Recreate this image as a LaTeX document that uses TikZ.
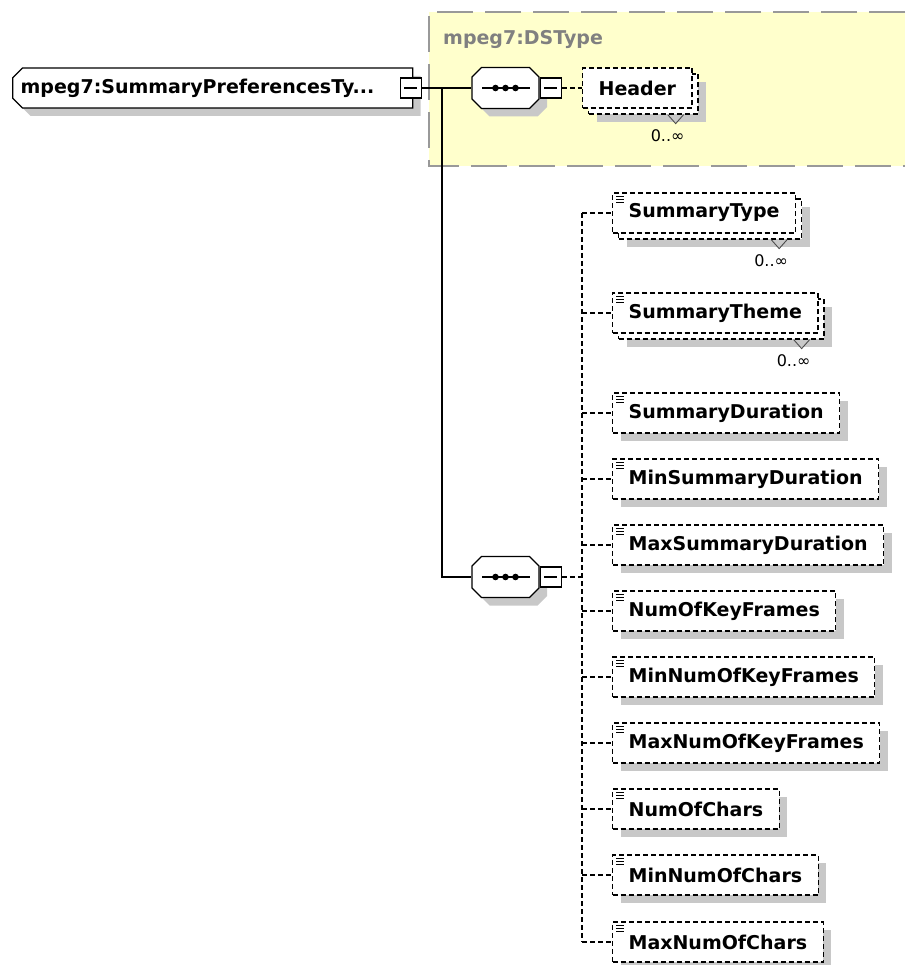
\documentclass[tikz,border=0pt]{standalone}
\usepackage{fontspec}
\usepackage{tikz}
\usetikzlibrary{shapes.misc,shadows,calc}
\newfontfamily\dvfont{DejaVu Sans}
\definecolor{dsyellow}{RGB}{255,255,204}
\definecolor{dsborder}{RGB}{153,153,153}
\definecolor{dstext}{RGB}{128,128,128}
\definecolor{shadegray}{RGB}{200,200,200}

\tikzset{
  lbl/.style={font=\dvfont\bfseries\fontsize{19}{22}\selectfont},
  plainshadow/.style={drop shadow={shadow xshift=#1,shadow yshift=-#1,fill=shadegray,opacity=1}},
  rootbox/.style={lbl,chamfered rectangle,chamfered rectangle corners={north west,south west},
    chamfered rectangle xsep=7pt,draw,line width=1.3pt,fill=white,
    minimum width=400pt,minimum height=40pt,inner xsep=0pt,plainshadow=8pt},
  seqbox/.style={chamfered rectangle,chamfered rectangle xsep=11pt,draw,line width=1.3pt,fill=white,
    minimum width=67pt,minimum height=41pt,inner sep=0pt,plainshadow=8pt,
    path picture={
      \draw[black,line width=1.4pt] ([xshift=10pt]path picture bounding box.west) -- ([xshift=-9pt]path picture bounding box.east);
      \foreach \d in {-10,0,10}
        \fill[black] ([xshift=\d pt]path picture bounding box.center) circle (3.3pt);
    }},
  minbox/.style={draw,line width=1.1pt,fill=white,minimum width=21pt,minimum height=20pt,inner sep=0pt,
    path picture={\draw[black,line width=1.1pt] ([xshift=4pt]path picture bounding box.west) -- ([xshift=-4pt]path picture bounding box.east);}},
  elembox/.style={lbl,draw,dash pattern=on 5pt off 3pt,line width=1.2pt,fill=white,
    minimum height=40pt,inner xsep=16pt,anchor=west},
  elem/.style={elembox,plainshadow=8pt},
  multi/.style={elembox,plainshadow=14pt,
    general shadow={shadow xshift=6pt,shadow yshift=-6pt,draw=black,fill=white,
      dash pattern=on 5pt off 3pt,line width=1.2pt}},
  occ/.style={font=\dvfont\fontsize{16}{18}\selectfont,inner sep=0pt,anchor=north east},
  conn/.style={line width=1.5pt},
  link/.style={line width=1.1pt,dash pattern=on 5pt off 3pt}
}

% chevron and 0..oo under a repeated element
\newcommand\occurs[1]{%
  \draw[black!70,line width=0.9pt] ($(#1.south east)+(-25,6)$) -- ++(8,9) -- ++(8,-9);
  \node[occ] (#1-occ) at ($(#1.south east)+(-8,21)$) {0..∞};
}

\begin{document}
\begin{tikzpicture}[x=1pt,y=-1pt]
  \useasboundingbox (0,0) rectangle (905,965);

  % DSType group
  \fill[dsyellow] (429,12) rectangle (905,166);
  \draw[dsborder,line width=2pt,dash pattern=on 36pt off 12pt] (905,12) -- (429,12) -- (429,166) -- (905,166);
  \node[lbl,text=dstext,anchor=west,inner sep=0pt] (dslabel) at (443,40) {mpeg7:DSType};

  % root type and compositors
  \node[rootbox,anchor=west] (root) at (12,88) {\makebox[384pt][l]{mpeg7:SummaryPreferencesTy...}};
  \node[minbox] (rootm) at ([xshift=-2.5pt]root.east) {};

  \node[seqbox] (seqA) at (505.5,88) {\rule{0pt}{19pt}};
  \node[minbox,anchor=west] (seqAm) at (seqA.east) {};
  \node[seqbox] (seqB) at (505.5,577) {\rule{0pt}{19pt}};
  \node[minbox,anchor=west] (seqBm) at (seqB.east) {};

  \node[multi] (header) at (582,88) {Header};

  % elements
  \node[multi] (sumtype) at (612,213) {SummaryType};
  \node[multi] (sumtheme) at (612,313) {SummaryTheme};
  \node[elem] (sumdur) at (612,413) {SummaryDuration};
  \node[elem] (minsumdur) at (612,479) {MinSummaryDuration};
  \node[elem] (maxsumdur) at (612,545) {MaxSummaryDuration};
  \node[elem] (numkf) at (612,611) {NumOfKeyFrames};
  \node[elem] (minnumkf) at (612,677) {MinNumOfKeyFrames};
  \node[elem] (maxnumkf) at (612,743) {MaxNumOfKeyFrames};
  \node[elem] (numch) at (612,809) {NumOfChars};
  \node[elem] (minnumch) at (612,875) {MinNumOfChars};
  \node[elem] (maxnumch) at (612,942) {MaxNumOfChars};

  \occurs{header}
  \occurs{sumtype}
  \occurs{sumtheme}

  \foreach \n in {sumtype,sumtheme,sumdur,minsumdur,maxsumdur,numkf,minnumkf,maxnumkf,numch,minnumch,maxnumch}
    \foreach \dy in {4,7,10}
      \draw[line width=0.9pt] ($(\n.north west)+(4,\dy)$) -- ++(8,0);

  % connectors
  \coordinate (fork) at (442,88);
  \draw[conn] (rootm.east) -- (seqA.west);
  \draw[conn] (fork) |- (seqB.west);
  \draw[link] (seqAm.east) -- (header.west);

  \coordinate (spine) at (582,577);
  \draw[link] (seqBm.east) -- (spine);
  \draw[link] (spine |- sumtype.west) -- (spine |- maxnumch.west);
  \foreach \n in {sumtype,sumtheme,sumdur,minsumdur,maxsumdur,numkf,minnumkf,maxnumkf,numch,minnumch,maxnumch}
    \draw[link] (spine |- \n.west) -- (\n.west);
\end{tikzpicture}
\end{document}
